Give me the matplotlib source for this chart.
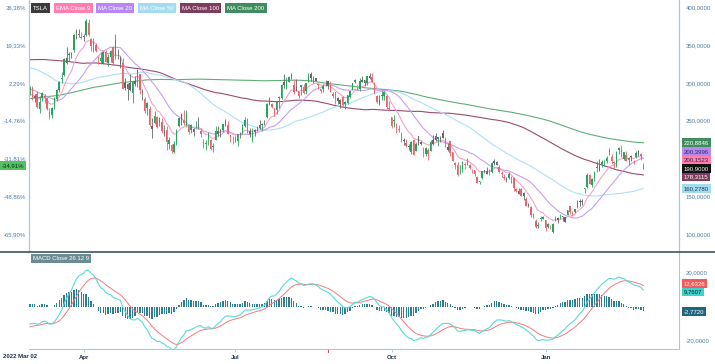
import numpy as np
import pandas as pd
import matplotlib
matplotlib.use("Agg")
import matplotlib.pyplot as plt
from matplotlib.lines import Line2D

plt.rcParams['font.family'] = ['Liberation Sans', 'DejaVu Sans']

# daily closes before the visible window (May 2021 - Mar 1 2022), only used to warm up the averages
history_closes = [
    192.3, 192.6, 187.8, 195.6, 193.6, 202.1, 201.6, 206.4, 210.3, 208.4,
    208.0, 201.7, 190.9, 199.7, 201.7, 201.2, 199.6, 203.4, 205.9, 206.9, 199.6,
    201.7, 205.7, 207.2, 206.9, 207.3, 219.7, 226.3, 224.6, 229.6, 226.6, 226.6,
    225.0, 226.1, 218.3, 220.6, 215.5, 219.7, 218.2, 228.1, 229.8, 222.9, 216.7,
    215.0, 214.6, 215.1, 219.7, 214.9, 219.6, 215.4, 215.2, 225.2, 229.1,
    236.6, 237.3, 236.5, 237.0, 233.7, 236.8, 237.7, 236.1, 235.4, 239.5, 228.7,
    222.4, 221.0, 216.5, 227.5, 236.1, 236.6, 237.3, 234.3, 237.8, 244.3, 245.2,
    244.7, 244.1, 244.7, 251.9, 250.6, 250.3, 247.2, 249.9, 248.8, 252.3, 253.5,
    251.4, 248.9, 249.2, 250.6, 259.2, 258.1, 262.0, 258.4, 260.7, 258.5,
    258.4, 260.5, 260.8, 262.0, 264.5, 262.8, 269.3, 270.4, 269.9, 280.6, 281.6,
    290.3, 290.9, 288.3, 302.6, 303.8, 341.6, 336.3, 346.0, 357.0, 371.3,
    402.9, 390.7, 404.6, 410.0, 407.4, 387.6, 341.2, 356.0, 354.5, 344.5, 337.8,
    351.6, 363.0, 365.5, 379.0, 385.6, 369.7, 372.0, 360.6, 379.0, 381.6,
    365.0, 361.5, 338.3, 336.3, 350.6, 356.0, 334.6, 339.2, 322.1, 319.5, 325.3,
    309.0, 310.9, 300.0, 312.8, 336.0, 355.7, 364.6, 362.8, 362.1, 356.8, 352.3,
    399.9, 383.2, 362.7, 354.9, 342.3, 352.7, 354.8, 368.7, 343.9, 349.9,
    343.5, 331.9, 332.1, 314.6, 310.9, 306.3, 312.5, 276.4, 282.1, 312.2,
    310.4, 301.9, 297.0, 307.8, 302.6, 307.3, 310.9, 301.5, 286.7, 291.9,
    307.5, 307.8, 292.1, 285.7, 273.8, 254.7, 266.9, 270.0, 290.1,
    288.1,
]

# visible candles, 2022-03-02 .. 2023-03-02, one line per month
opens = [
    290.7, 292.9, 283.0, 285.4, 265.2, 279.8, 283.0, 280.7, 261.0, 258.1, 269.2, 278.5, 290.0, 305.5, 310.0, 326.6, 336.6, 337.0, 343.0, 368.5, 363.0, 361.1,
    360.2, 363.1, 378.8, 357.8, 350.8, 350.4, 326.8, 332.5, 327.0, 341.0, 326.7, 334.0, 347.7, 357.0, 335.0, 324.7, 326.2, 299.5, 298.0, 300.0,
    286.9, 299.0, 304.3, 311.3, 289.0, 279.0, 273.1, 265.7, 239.2, 247.5, 255.0, 248.2, 248.8, 232.9, 237.1, 219.1, 217.9, 208.3, 220.5, 242.6, 257.9,
    251.2, 244.8, 243.9, 244.2, 234.9, 241.5, 239.0, 236.2, 221.8, 219.0, 225.7, 223.9, 215.7, 224.6, 232.1, 238.3, 237.5, 249.4, 244.5, 230.5, 224.5,
    227.0, 223.0, 230.8, 233.3, 242.8, 252.1, 236.8, 225.5, 234.9, 240.0, 244.0, 245.0, 246.8, 255.6, 276.2, 272.3, 266.5, 263.8, 280.1, 280.7,
    301.3, 294.0, 301.8, 311.0, 297.3, 294.0, 289.3, 297.1, 295.1, 289.4, 301.8, 311.7, 303.4, 306.0, 299.0, 291.9, 291.5, 297.6, 302.4, 297.4, 282.8, 287.9, 280.6,
    272.6, 281.1, 272.7, 273.1, 281.3, 291.7, 300.7, 292.9, 292.2, 301.8, 299.6, 300.1, 306.9, 308.3, 299.9, 283.1, 271.8, 283.8, 283.1, 282.8, 266.2,
    254.5, 250.5, 245.0, 239.4, 233.9, 223.9, 220.9, 215.3, 208.3, 224.0, 210.0, 229.5, 219.8, 208.3, 206.4, 205.8, 210.1, 219.4, 229.8, 225.4, 226.2,
    234.1, 226.0, 211.4, 222.6, 208.7, 194.0, 190.8, 189.9, 186.0, 192.8, 195.9, 191.5, 184.0, 185.1, 175.9, 168.6, 173.6, 185.1, 180.0, 185.0, 182.4,
    197.1, 191.8, 189.4, 181.2, 175.0, 172.2, 173.8, 176.1, 174.9, 159.3, 153.4, 159.6, 154.0, 146.1, 139.3, 136.0, 126.4, 117.5, 110.4, 120.4, 120.0,
    118.5, 109.1, 110.5, 103.0, 119.0, 121.1, 122.1, 122.6, 116.6, 125.7, 136.6, 127.3, 128.7, 135.9, 143.0, 141.9, 160.0, 162.4, 178.1, 164.6,
    173.9, 187.3, 184.0, 193.0, 196.4, 196.1, 207.8, 202.2, 194.4, 191.9, 211.8, 210.8, 200.0, 205.0, 197.9, 203.9, 196.3, 202.0, 210.6, 206.2, 186.7,
]
highs = [
    296.6, 295.5, 285.2, 288.7, 283.3, 288.2, 285.8, 281.7, 266.9, 268.5, 281.7, 291.7, 302.6, 314.3, 332.6, 346.9, 341.5, 340.6, 365.2, 371.6, 371.3, 367.5,
    364.9, 384.3, 384.0, 359.7, 358.9, 352.4, 336.2, 340.4, 342.1, 344.2, 338.3, 344.0, 348.3, 364.1, 344.9, 336.2, 333.3, 306.0, 300.3, 311.5,
    302.1, 308.8, 318.5, 311.9, 292.1, 281.9, 275.3, 269.9, 253.2, 262.9, 256.7, 254.8, 253.5, 244.7, 243.5, 228.7, 219.4, 223.1, 239.6, 253.3, 259.6,
    264.2, 264.8, 245.7, 245.9, 240.0, 249.9, 255.5, 240.2, 226.3, 224.0, 235.3, 226.1, 220.9, 243.6, 242.4, 239.3, 246.1, 252.1, 249.9, 231.2, 229.5,
    230.2, 233.1, 234.6, 245.4, 254.9, 253.1, 239.8, 239.9, 238.7, 243.6, 250.5, 247.1, 250.7, 273.3, 280.8, 274.1, 267.3, 275.9, 283.3, 298.3,
    311.9, 307.8, 309.6, 313.6, 304.6, 305.2, 289.9, 297.5, 298.2, 300.2, 313.1, 314.7, 309.7, 306.5, 300.4, 292.4, 298.8, 303.6, 303.0, 302.0, 287.7, 288.5, 281.3,
    278.4, 282.4, 276.0, 283.8, 289.5, 299.9, 305.5, 297.4, 306.0, 309.1, 303.7, 309.8, 313.8, 313.8, 301.3, 284.5, 284.1, 288.7, 289.0, 283.7, 275.6,
    255.2, 257.5, 246.7, 244.6, 234.6, 227.0, 225.8, 219.3, 223.0, 226.3, 221.9, 229.8, 222.9, 215.6, 214.7, 213.5, 224.4, 230.6, 233.8, 228.9, 229.9,
    237.4, 227.9, 221.2, 223.8, 208.9, 195.2, 195.9, 191.0, 196.5, 195.7, 200.8, 192.6, 186.2, 185.2, 176.8, 170.9, 183.6, 185.2, 188.5, 186.4, 194.8,
    198.9, 196.3, 191.3, 183.6, 179.4, 175.2, 182.5, 177.4, 175.1, 161.6, 160.9, 161.0, 155.3, 148.5, 141.3, 136.6, 128.6, 119.7, 116.3, 123.6, 124.5,
    118.8, 114.6, 111.8, 114.4, 123.5, 122.8, 126.0, 124.1, 122.6, 131.7, 136.7, 130.0, 133.5, 145.4, 146.5, 146.4, 161.4, 180.7, 179.8, 174.3,
    183.8, 196.8, 199.0, 198.2, 197.5, 203.0, 214.0, 206.2, 196.3, 209.8, 214.7, 217.7, 208.4, 209.7, 202.0, 205.1, 197.7, 209.4, 211.2, 207.2, 193.8,
]
lows = [
    284.6, 277.5, 275.1, 267.4, 260.7, 276.7, 274.0, 264.6, 252.0, 253.2, 265.0, 276.7, 288.3, 300.0, 309.0, 325.0, 329.6, 332.4, 341.5, 357.9, 361.3, 358.3,
    355.5, 362.4, 361.9, 342.6, 340.5, 340.4, 324.9, 325.5, 324.4, 327.9, 322.3, 327.5, 324.2, 332.1, 331.3, 319.3, 291.7, 290.9, 277.5, 289.3,
    274.0, 296.2, 295.1, 285.4, 277.5, 260.4, 258.1, 242.4, 226.7, 246.2, 239.8, 242.9, 233.3, 229.8, 211.0, 212.1, 206.9, 207.7, 217.9, 241.3, 244.7,
    244.3, 241.5, 233.1, 234.4, 230.3, 240.1, 239.0, 228.6, 214.1, 211.6, 218.0, 211.2, 208.7, 224.2, 230.2, 228.4, 234.5, 242.6, 232.3, 222.3, 218.9,
    222.1, 216.2, 227.2, 232.2, 241.2, 233.6, 228.4, 222.0, 229.3, 236.9, 239.6, 236.9, 244.0, 254.1, 270.7, 267.4, 256.3, 258.9, 267.0, 279.1,
    293.3, 291.5, 301.2, 305.0, 285.5, 289.1, 279.8, 283.4, 285.8, 285.0, 301.2, 302.9, 300.0, 301.9, 292.5, 286.3, 287.9, 296.5, 291.6, 287.5, 280.7, 272.7, 271.8,
    266.2, 269.1, 265.7, 272.3, 279.8, 291.3, 300.4, 290.4, 289.3, 300.7, 295.6, 297.8, 305.6, 300.6, 285.8, 272.8, 270.3, 277.5, 277.6, 265.8, 262.5,
    241.0, 242.0, 233.3, 235.4, 222.0, 218.0, 215.0, 211.5, 206.2, 204.2, 209.5, 217.3, 217.8, 202.0, 203.8, 198.6, 210.0, 218.2, 222.9, 216.4, 221.9,
    227.3, 214.8, 210.1, 203.1, 196.7, 186.8, 177.1, 180.0, 182.6, 186.3, 192.1, 185.7, 180.9, 176.6, 167.5, 166.2, 172.5, 180.6, 179.0, 178.8, 180.6,
    191.8, 191.1, 180.6, 175.3, 172.2, 169.1, 173.4, 167.5, 156.9, 155.3, 153.3, 150.0, 145.8, 137.7, 135.9, 122.3, 121.0, 108.2, 108.2, 117.5, 119.8,
    104.6, 107.5, 107.2, 101.8, 117.1, 114.9, 120.5, 117.0, 115.6, 125.0, 127.0, 124.3, 127.4, 134.3, 137.7, 138.1, 154.8, 161.2, 166.5, 162.8,
    169.9, 182.6, 183.7, 189.1, 189.6, 194.3, 204.8, 192.9, 187.6, 189.4, 206.1, 201.8, 197.5, 197.2, 191.8, 196.3, 192.8, 201.3, 203.8, 198.5, 186.0,
]
closes = [
    293.2967, 279.76, 279.43, 268.19, 274.80, 286.32, 279.43, 265.12, 255.46, 267.30, 280.08, 290.53, 301.80, 307.05, 331.33, 333.04, 337.97, 336.88, 363.95, 366.52, 364.66, 359.20,
    361.53, 381.82, 363.75, 348.59, 352.42, 341.83, 325.31, 328.98, 340.79, 328.33, 334.76, 342.72, 325.73, 336.26, 335.02, 332.67, 292.14, 293.84, 292.50, 290.25,
    300.98, 303.08, 317.54, 291.09, 288.55, 262.37, 266.68, 244.67, 242.67, 256.53, 241.46, 253.87, 236.60, 236.47, 221.30, 224.97, 209.39, 219.60, 235.91, 253.21, 252.75,
    246.79, 258.33, 234.52, 238.28, 238.89, 241.87, 239.71, 232.23, 215.74, 220.89, 233.00, 213.10, 216.76, 237.04, 236.09, 235.07, 245.71, 244.92, 232.66, 228.49, 224.47,
    227.26, 233.07, 231.73, 244.54, 250.76, 234.34, 233.07, 237.04, 238.31, 240.07, 240.55, 245.53, 247.50, 271.71, 272.24, 268.43, 258.86, 274.82, 280.90, 297.15,
    297.28, 300.59, 307.40, 308.63, 288.17, 290.42, 283.33, 294.36, 286.63, 300.03, 309.32, 306.56, 303.99, 302.87, 296.67, 289.91, 296.45, 297.10, 296.07, 288.09, 284.82, 277.70, 275.61,
    277.16, 270.21, 274.42, 283.70, 289.26, 299.68, 304.42, 292.13, 302.61, 303.75, 303.35, 309.07, 308.73, 300.80, 288.59, 275.33, 276.01, 282.94, 287.81, 268.21, 265.25,
    242.40, 249.44, 240.81, 238.13, 223.07, 222.96, 216.50, 217.24, 221.72, 204.99, 219.35, 220.19, 222.04, 207.28, 214.44, 211.25, 222.42, 224.64, 225.09, 228.52, 227.54,
    227.82, 214.98, 215.31, 207.47, 197.08, 191.30, 177.59, 190.72, 195.97, 190.95, 194.42, 186.92, 183.17, 180.19, 167.87, 169.91, 183.20, 182.86, 182.92, 180.83, 194.70,
    194.70, 194.86, 182.45, 179.82, 174.04, 173.44, 179.05, 167.82, 160.95, 156.80, 157.67, 150.23, 149.87, 137.80, 137.57, 125.35, 123.15, 109.10, 112.71, 121.82, 123.18,
    108.10, 113.64, 110.34, 113.06, 119.77, 118.85, 123.22, 123.56, 122.40, 131.49, 128.78, 127.17, 133.42, 143.75, 143.89, 144.43, 160.27, 177.90, 166.66, 173.22,
    181.41, 188.27, 189.98, 194.76, 196.81, 201.29, 207.32, 196.89, 194.64, 209.25, 214.24, 202.04, 208.31, 197.37, 200.86, 202.07, 196.88, 207.63, 205.71, 202.77, 190.90,
]

holidays = ['2022-04-15', '2022-05-30', '2022-06-20', '2022-07-04', '2022-09-05',
            '2022-11-24', '2022-12-26', '2023-01-02', '2023-01-16', '2023-02-20']
split_date = '2022-08-25'

# last-value tags as printed on the chart
ind_names = ['MA Close 200', 'MA Close 20', 'EMA Close 9', 'TSLA', 'MA Close 100', 'MA Close 50']
ind_last = [220.8846, 200.3996, 200.1523, 190.9000, 178.3115, 160.2780]
macd_names = ['signal', 'macd', 'hist']
macd_last = [12.6326, 9.7607, -2.7720]

c_up, c_dn, c_flat = '#27a35e', '#e9646c', '#666666'
ma_style = {
    'EMA Close 9': ('#f8a2c6', '#ff7db0', '#3a2a40'),
    'MA Close 20': ('#c79ff3', '#b888f2', '#2a2a50'),
    'MA Close 50': ('#aee0f3', '#a3dbf0', '#1d3a55'),
    'MA Close 100': ('#9c4b6f', '#7e3c5e', 'white'),
    'MA Close 200': ('#5fae78', '#3f8d5d', 'white'),
    'TSLA': (None, '#111111', 'white'),
}
axis_blue = '#a8c9dd'
label_blue = '#4e7ca6'
navy = '#1f2f4d'

# ---- indicators
all_close = pd.Series(history_closes + closes)
nh = len(history_closes)
ema9 = all_close.ewm(span=9, adjust=False).mean().values[nh:]
ma20 = all_close.rolling(20).mean().values[nh:]
ma50 = all_close.rolling(50).mean().values[nh:]
ma100 = all_close.rolling(100).mean().values[nh:]
ma200 = all_close.rolling(200).mean().values[nh:]
macd_full = all_close.ewm(span=12, adjust=False).mean() - all_close.ewm(span=26, adjust=False).mean()
sig_full = macd_full.ewm(span=9, adjust=False).mean()
macd = macd_full.values[nh:]
signal = sig_full.values[nh:]
hist = macd - signal

o = np.array(opens); h = np.array(highs); l = np.array(lows); c = np.array(closes)
n = len(c)
x = np.arange(n)
dates = pd.bdate_range('2022-03-02', '2023-03-02', freq='C', holidays=holidays)[:n]
prev = np.concatenate([[history_closes[-1]], c[:-1]])
chg = c / prev - 1
colors = np.where(chg > 0.01, c_up, np.where(chg < -0.01, c_dn, c_flat))

W, H = 715, 364
fig = plt.figure(figsize=(W / 100, H / 100), dpi=100)
L, R = 29 / W, 679 / W
ax = fig.add_axes([L, 1 - 251 / H, R - L, 251 / H])
axm = fig.add_axes([L, 1 - 349 / H, R - L, (349 - 252) / H])

# ---- main price panel
ax.vlines(x, l, h, colors=colors, linewidth=0.6, zorder=3)
body_lo = np.minimum(o, c)
body_h = np.maximum(np.abs(c - o), 0.4)
ax.bar(x, body_h, bottom=body_lo, width=0.62, color=colors, linewidth=0, zorder=3)
for series, name in [(ma200, 'MA Close 200'), (ma100, 'MA Close 100'), (ma50, 'MA Close 50'),
                     (ma20, 'MA Close 20'), (ema9, 'EMA Close 9')]:
    ax.plot(x, series, color=ma_style[name][0], linewidth=0.8, zorder=2)

ymin, ymax = 77.7, 409.7
ax.set_xlim(-0.35, 265.6)
ax.set_ylim(ymin, ymax)
base = closes[0]
price_ticks = [100, 150, 200, 250, 300, 350, 400]
ax.set_yticks(price_ticks)
ax.set_yticklabels([f"{(p / base - 1) * 100:.2f}%".replace('.', ',') for p in price_ticks])
ax.tick_params(axis='y', length=0, pad=2, labelsize=4.3, labelcolor=label_blue)
ax.set_xticks([])
# the 200 level on the price side sits under the value tags
right_ticks = [100, 150, 250, 300, 350, 400]
axr = ax.twinx()
axr.set_ylim(ymin, ymax)
axr.set_yticks(right_ticks)
axr.set_yticklabels([f"{p:.4f}".replace('.', ',') for p in right_ticks])
axr.tick_params(axis='y', length=0, pad=5, labelsize=4.3, labelcolor=label_blue)
for a in (ax, axr):
    for s in ('top', 'bottom'):
        a.spines[s].set_visible(False)
    a.spines['left'].set_color(axis_blue)
    a.spines['right'].set_color(axis_blue)
    a.spines['left'].set_linewidth(0.8)
    a.spines['right'].set_linewidth(0.8)

# ---- MACD panel
axm.bar(x, hist, width=0.55, color='#2d7d93', linewidth=0, zorder=2)
axm.plot(x, signal, color='#f37b7b', linewidth=0.7, zorder=3)
axm.plot(x, macd, color='#5adbd5', linewidth=0.8, zorder=3)
mmin, mmax = -24.9, 32.2
axm.set_xlim(-0.35, 265.6)
axm.set_ylim(mmin, mmax)
axm.yaxis.tick_right()
axm.set_yticks([-20, 20])
axm.set_yticklabels([f"{v:.4f}".replace('.', ',') for v in [-20, 20]])
axm.tick_params(axis='y', length=0, pad=5, labelsize=4.3, labelcolor=label_blue)
months = dates.month
tick_idx = [i for i in range(1, n) if months[i] != months[i - 1] and months[i] in (1, 4, 7, 10)]
axm.set_xticks(tick_idx)
axm.set_xticklabels([dates[i].strftime('%b') for i in tick_idx])
axm.tick_params(axis='x', length=2.5, width=0.6, color=axis_blue, pad=1.5,
                labelsize=4.3, labelcolor=navy)
for t in axm.get_xticklabels():
    t.set_fontweight('bold')
for s in ('top', 'left'):
    axm.spines[s].set_visible(False)
for s in ('bottom', 'right'):
    axm.spines[s].set_color(axis_blue)
    axm.spines[s].set_linewidth(0.8)
si = list(dates.strftime('%Y-%m-%d')).index(split_date)
axm.plot([si, si], [0, -0.035], transform=axm.get_xaxis_transform(), color='#e84040',
         linewidth=0.7, clip_on=False)
fig.text(3 / W, 1 - 357 / H, dates[0].strftime('%Y %b %d'), fontsize=4.3, color=navy,
         fontweight='bold', va='center', ha='left')

# separator between panels
fig.add_artist(Line2D([0, 1], [1 - 251.5 / H] * 2, color='#2b4757', linewidth=1.1))

# ---- legend chips
fig.canvas.draw()
rend = fig.canvas.get_renderer()
xpos = 33
for name in ['TSLA', 'EMA Close 9', 'MA Close 20', 'MA Close 50', 'MA Close 100', 'MA Close 200']:
    t = fig.text(xpos / W, 1 - 8 / H, name, fontsize=4.3, color='white', va='center', ha='left',
                 bbox=dict(boxstyle='square,pad=0.35', fc=ma_style[name][1] if name != 'TSLA' else '#3b3b3b',
                           ec='none'))
    bb = t.get_window_extent(rend)
    xpos = bb.x1 + 8
fig.text(33 / W, 1 - 258.5 / H, 'MACD Close 26 12 9', fontsize=4.3, color='white', va='center',
         ha='left', bbox=dict(boxstyle='square,pad=0.35', fc='#6b8c93', ec='none'))


def spread(ys, gap):
    ys = list(ys)
    order = list(np.argsort(ys)[::-1])
    for _ in range(200):
        moved = False
        for a, b in zip(order[:-1], order[1:]):
            d = ys[a] - ys[b]
            if d < gap - 1e-6:
                sh = (gap - d) / 2
                ys[a] += sh
                ys[b] -= sh
                moved = True
        if not moved:
            break
    return ys


def tag_y(axis, vals):
    disp = [axis.transData.transform((0, v))[1] for v in vals]
    disp = spread(disp, 8.6)
    return [d / H for d in disp]


for name, v, yy in zip(ind_names, ind_last, tag_y(ax, ind_last)):
    fc = ma_style[name][1]
    tc = ma_style[name][2]
    fig.text(684 / W, yy, f"{v:.4f}".replace('.', ','), fontsize=4.3, color=tc, va='center',
             ha='left', zorder=10, bbox=dict(boxstyle='square,pad=0.3', fc=fc, ec='none'))

macd_colors = {'signal': ('#f25b5b', 'white'), 'macd': ('#3fd2cb', '#123'), 'hist': ('#1f6680', 'white')}
for name, v, yy in zip(macd_names, macd_last, tag_y(axm, macd_last)):
    fc, tc = macd_colors[name]
    fig.text(684 / W, yy, f"{v:.4f}".replace('.', ','), fontsize=4.3, color=tc, va='center',
             ha='left', zorder=10, bbox=dict(boxstyle='square,pad=0.3', fc=fc, ec='none'))

pct = (closes[-1] / base - 1) * 100
yy = ax.transData.transform((0, closes[-1]))[1] / H
fig.text(2 / W, yy, f"{pct:.2f}%".replace('.', ','), fontsize=4.3, color='#14301a', va='center',
         ha='left', zorder=10, bbox=dict(boxstyle='square,pad=0.3', fc='#52c160', ec='none'))

fig.savefig('out.png', dpi=100)
